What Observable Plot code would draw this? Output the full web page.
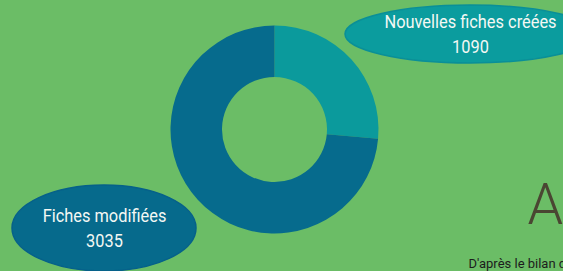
<!DOCTYPE html>
<html><head><meta charset="utf-8">
<script src="https://cdn.jsdelivr.net/npm/d3@7"></script>
<script src="https://cdn.jsdelivr.net/npm/@observablehq/plot@0.6"></script>
<style>
html,body{margin:0;padding:0;background:#6bbd66;overflow:hidden;width:563px;height:271px}
#chart svg{overflow:hidden;display:block}
</style>
</head><body><div id="chart"></div>
<script>
const categories = ["Nouvelles fiches créées", "Fiches modifiées"];
const values = [1090, 3035];
const sliceColors = ["#0b9a9c", "#066b8d"];
const headline = "A";
const footnote = "D'après le bilan de l'année";

const W = 563, H = 271;
const center = {x: 274.5, y: 129.5}, rOuter = 104, rInner = 52.5;
const calloutGeom = [
  {x: 470, y: 34, rx: 125, ry: 29, fill: "#0b9c9e", stroke: "#0a8f98"},
  {x: 104, y: 228, rx: 92, ry: 43, fill: "#066a8c", stroke: "#06618a"}
];

const slices = d3.pie().sort(null).value(d => d.value)(
  categories.map((c, i) => ({category: c, value: values[i], color: sliceColors[i]}))
);
const callouts = categories.map((c, i) => ({category: c, value: values[i], ...calloutGeom[i]}));
const labelLines = callouts.flatMap(d => [
  {x: d.x, y: d.y - 12, text: d.category},
  {x: d.x, y: d.y + 13, text: String(d.value)}
]);

function donutMark(index, scales) {
  const {x, y} = scales;
  const px = r => x(center.x + r) - x(center.x);
  const g = d3.create("svg:g").attr("transform", `translate(${x(center.x)},${y(center.y)})`);
  const arc = d3.arc().innerRadius(px(rInner)).outerRadius(px(rOuter));
  g.selectAll("path").data(slices).join("path")
    .attr("d", arc).attr("fill", d => d.data.color);
  return g.node();
}
function ellipseMark(index, scales) {
  const {x, y} = scales;
  const g = d3.create("svg:g");
  g.selectAll("ellipse").data(callouts).join("ellipse")
    .attr("cx", d => x(d.x)).attr("cy", d => y(d.y))
    .attr("rx", d => x(d.x + d.rx) - x(d.x)).attr("ry", d => y(d.y + d.ry) - y(d.y))
    .attr("fill", d => d.fill).attr("stroke", d => d.stroke).attr("stroke-width", 1.5);
  return g.node();
}

const plot = Plot.plot({
  width: W, height: H,
  margin: 0,
  x: {domain: [0, W], range: [0, W], axis: null},
  y: {domain: [0, H], range: [0, H], axis: null},
  style: {background: "#6bbd66", overflow: "hidden"},
  marks: [
    donutMark,
    ellipseMark,
    Plot.text(labelLines, {x: "x", y: "y", text: "text", fill: "#f4f8f4", fontSize: 18,
      fontFamily: "Roboto, sans-serif", textAnchor: "middle", className: "condensed"}),
    Plot.text([headline], {x: () => 527, y: () => 205, text: d => d, fill: "#4a4632", fontSize: 57,
      fontWeight: 300, fontFamily: "Roboto, sans-serif", textAnchor: "start"}),
    Plot.text([footnote], {x: () => 468, y: () => 263, text: d => d, fill: "#1c1c1c", fontSize: 13,
      fontFamily: "Roboto, sans-serif", textAnchor: "start"})
  ]
});
document.getElementById("chart").appendChild(plot);
// Condense the label font (reference uses a narrow face)
plot.querySelectorAll("g.condensed text").forEach(t => {
  const len = t.getComputedTextLength();
  t.setAttribute("textLength", (len * 0.91).toFixed(1));
  t.setAttribute("lengthAdjust", "spacingAndGlyphs");
});
</script>
</body></html>
